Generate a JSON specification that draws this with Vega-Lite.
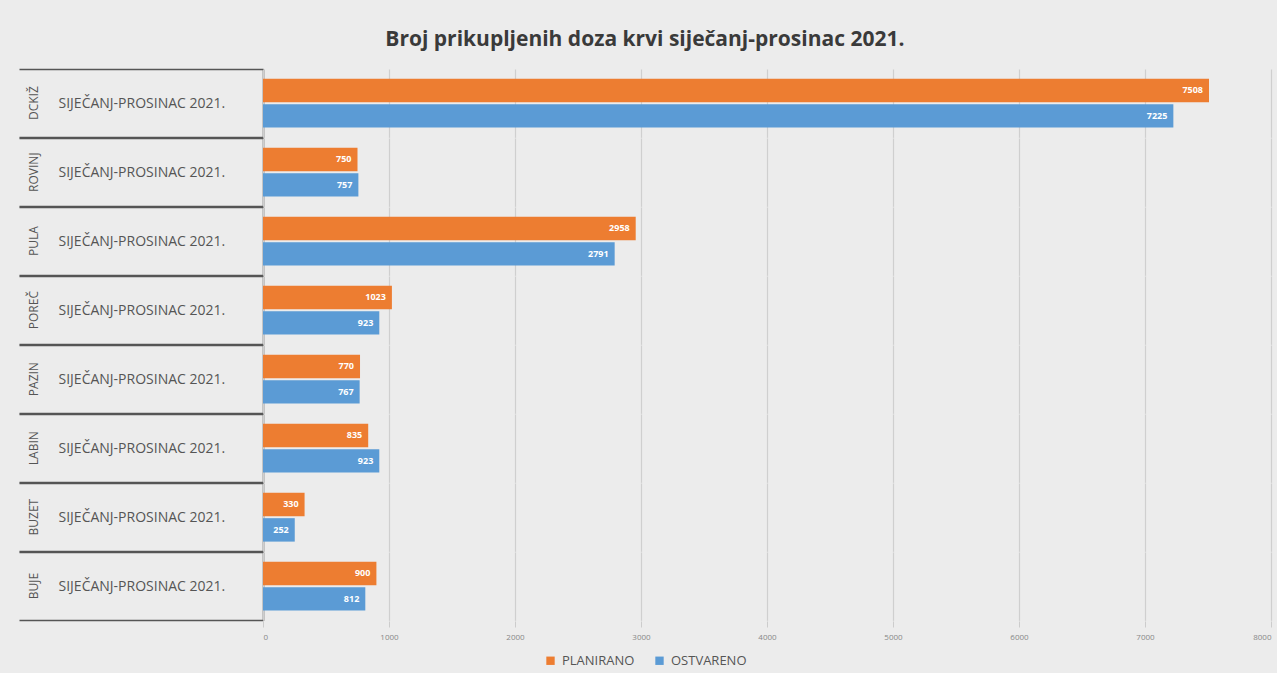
{
  "$schema": "https://vega.github.io/schema/vega-lite/v6.json",
  "background": "#ececec",
  "padding": {"left": 18, "top": 29, "right": 5, "bottom": 5},
  "title": {"text": "Broj prikupljenih doza krvi siječanj-prosinac 2021.", "font": "Open Sans", "fontSize": 21, "fontWeight": "bold", "color": "#3a3a3a", "offset": 12, "anchor": "middle"},
  "data": {"values": [
    {"grad": "DCKIŽ", "razdoblje": "SIJEČANJ-PROSINAC 2021.", "serija": "PLANIRANO", "vrijednost": 7508},
    {"grad": "DCKIŽ", "razdoblje": "SIJEČANJ-PROSINAC 2021.", "serija": "OSTVARENO", "vrijednost": 7225},
    {"grad": "ROVINJ", "razdoblje": "SIJEČANJ-PROSINAC 2021.", "serija": "PLANIRANO", "vrijednost": 750},
    {"grad": "ROVINJ", "razdoblje": "SIJEČANJ-PROSINAC 2021.", "serija": "OSTVARENO", "vrijednost": 757},
    {"grad": "PULA", "razdoblje": "SIJEČANJ-PROSINAC 2021.", "serija": "PLANIRANO", "vrijednost": 2958},
    {"grad": "PULA", "razdoblje": "SIJEČANJ-PROSINAC 2021.", "serija": "OSTVARENO", "vrijednost": 2791},
    {"grad": "POREČ", "razdoblje": "SIJEČANJ-PROSINAC 2021.", "serija": "PLANIRANO", "vrijednost": 1023},
    {"grad": "POREČ", "razdoblje": "SIJEČANJ-PROSINAC 2021.", "serija": "OSTVARENO", "vrijednost": 923},
    {"grad": "PAZIN", "razdoblje": "SIJEČANJ-PROSINAC 2021.", "serija": "PLANIRANO", "vrijednost": 770},
    {"grad": "PAZIN", "razdoblje": "SIJEČANJ-PROSINAC 2021.", "serija": "OSTVARENO", "vrijednost": 767},
    {"grad": "LABIN", "razdoblje": "SIJEČANJ-PROSINAC 2021.", "serija": "PLANIRANO", "vrijednost": 835},
    {"grad": "LABIN", "razdoblje": "SIJEČANJ-PROSINAC 2021.", "serija": "OSTVARENO", "vrijednost": 923},
    {"grad": "BUZET", "razdoblje": "SIJEČANJ-PROSINAC 2021.", "serija": "PLANIRANO", "vrijednost": 330},
    {"grad": "BUZET", "razdoblje": "SIJEČANJ-PROSINAC 2021.", "serija": "OSTVARENO", "vrijednost": 252},
    {"grad": "BUJE", "razdoblje": "SIJEČANJ-PROSINAC 2021.", "serija": "PLANIRANO", "vrijednost": 900},
    {"grad": "BUJE", "razdoblje": "SIJEČANJ-PROSINAC 2021.", "serija": "OSTVARENO", "vrijednost": 812}
  ]},
  "facet": {
    "row": {
      "field": "grad", "type": "nominal",
      "sort": ["DCKIŽ", "ROVINJ", "PULA", "POREČ", "PAZIN", "LABIN", "BUZET", "BUJE"],
      "header": {"title": null, "labelAngle": -90, "labelOrient": "left", "labelPadding": -28, "labelFont": "Open Sans", "labelFontSize": 12, "labelColor": "#555555", "labelAlign": "center", "labelBaseline": "middle"}
    }
  },
  "spacing": 0,
  "spec": {
    "width": 1008,
    "height": 68.3,
    "encoding": {
      "y": {"field": "razdoblje", "type": "nominal", "title": null,
        "scale": {"paddingInner": 0, "paddingOuter": 0},
        "axis": {"tickBand": "extent", "tickSize": 244, "tickColor": "#555555", "tickWidth": 1.5, "domainColor": "#444444", "domainWidth": 1.5, "labelAlign": "left", "labelPadding": -39, "labelFont": "Open Sans", "labelFontSize": 14, "labelColor": "#555555", "labelLimit": 250}},
      "yOffset": {"field": "serija", "type": "nominal", "sort": ["PLANIRANO", "OSTVARENO"], "scale": {"paddingInner": 0.08, "paddingOuter": 0.38}},
      "x": {"field": "vrijednost", "type": "quantitative", "title": null,
        "scale": {"domain": [0, 8000]},
        "axis": {"values": [0, 1000, 2000, 3000, 4000, 5000, 6000, 7000, 8000], "format": "d", "domain": false, "ticks": true, "tickColor": "#cccccc", "tickSize": 6, "gridColor": "#cfcfcf", "gridWidth": 1.2, "labelFont": "Open Sans", "labelFontSize": 8, "labelColor": "#888888", "labelPadding": 6}}
    },
    "layer": [
      {"mark": {"type": "bar"},
        "encoding": {"color": {"field": "serija", "type": "nominal", "sort": ["PLANIRANO", "OSTVARENO"],
          "scale": {"domain": ["PLANIRANO", "OSTVARENO"], "range": ["#ED7D31", "#5B9BD5"]},
          "legend": {"title": null, "orient": "none", "legendX": 281, "legendY": 585, "direction": "horizontal", "symbolType": "square", "symbolSize": 70, "labelFont": "Open Sans", "labelFontSize": 13, "labelColor": "#555555", "columnPadding": 18, "labelOffset": 5}}}},
      {"mark": {"type": "text", "align": "right", "dx": -6, "color": "white", "fontSize": 9, "fontWeight": "bold", "font": "Open Sans"},
        "encoding": {"text": {"field": "vrijednost", "type": "quantitative"}}}
    ]
  },
  "config": {"view": {"stroke": null}}
}
